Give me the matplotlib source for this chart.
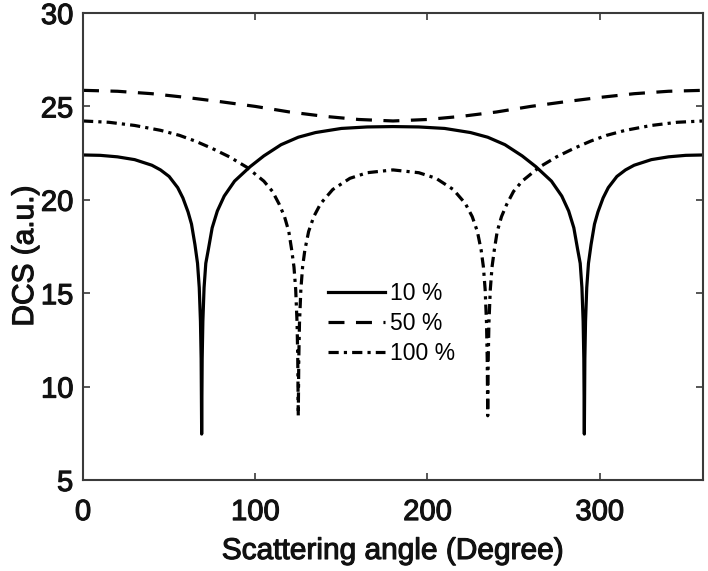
import matplotlib
matplotlib.use("Agg")
import matplotlib.pyplot as plt
import matplotlib.patheffects as pe

plt.rcParams['font.family'] = ['Liberation Sans', 'DejaVu Sans']

# ---- data ----
angle_10 = [0, 10, 20, 30, 40, 45, 50, 55, 58, 61, 63, 65, 66.5, 67.5, 68.2, 68.6, 68.9,
            69.2, 69.6, 70.3, 71.3, 72.8, 75, 78, 82, 88, 97, 105, 115, 125, 135, 150, 165, 180,
            195, 210, 225, 235, 245, 255, 263, 272, 278, 282, 285, 287.2, 288.7, 289.7, 290.4,
            290.8, 291.1, 291.4, 291.8, 292.5, 293.5, 295, 297, 299, 302, 305, 310, 315, 320, 330,
            340, 350, 360]
dcs_10 = [22.40, 22.38, 22.30, 22.15, 21.85, 21.60, 21.25, 20.65, 20.10, 19.35, 18.70, 17.60,
          16.60, 15.30, 13.50, 11.50, 7.46,
          11.50, 13.50, 15.30, 16.60, 17.35, 18.50, 19.40, 20.20, 21.00, 21.77, 22.35, 22.95,
          23.35, 23.60, 23.82, 23.90, 23.92,
          23.90, 23.82, 23.60, 23.35, 22.95, 22.35, 21.77, 21.00, 20.20, 19.40, 18.50, 17.35,
          16.60, 15.30, 13.50, 11.50, 7.46, 11.50, 13.50, 15.30, 16.60, 17.60, 18.70, 19.35,
          20.10, 20.65, 21.25, 21.60, 21.85, 22.15, 22.30, 22.38, 22.40]

angle_50 = [0, 20, 40, 60, 80, 100, 120, 140, 160, 180, 200, 220, 240, 260, 280, 300, 320, 340, 360]
dcs_50 = [25.86, 25.81, 25.68, 25.48, 25.25, 25.00, 24.70, 24.47, 24.30, 24.22,
          24.30, 24.47, 24.70, 25.00, 25.25, 25.48, 25.68, 25.81, 25.86]

angle_100 = [0, 15, 30, 45, 56, 65, 75, 85, 95, 105, 110, 114, 117, 119.5, 121.2, 122.5, 123.5,
             124.3, 124.7, 125.0, 125.3, 125.7, 126.5, 127.5, 128.8, 131, 134, 138, 145, 155,
             165, 180, 195, 205, 215, 222, 226, 229, 231.2, 232.5, 233.5, 234.3, 234.7, 235.0,
             235.3, 235.7, 236.5, 237.5, 238.8, 240.5, 243, 246, 250, 255, 265, 275, 285, 295,
             304, 315, 330, 345, 360]
dcs_100 = [24.22, 24.15, 23.98, 23.72, 23.45, 23.15, 22.75, 22.30, 21.75, 21.00, 20.45, 19.75,
           19.10, 18.30, 17.30, 16.40, 15.20, 13.40, 11.50, 8.44, 11.50, 13.40, 15.20, 16.40,
           17.30, 18.30, 19.10, 19.80, 20.55, 21.15, 21.45, 21.60, 21.45, 21.15, 20.55, 19.80,
           19.10, 18.30, 17.30, 16.40, 15.20, 13.40, 11.50, 8.44, 11.50, 13.40, 15.20, 16.40,
           17.30, 18.30, 19.10, 19.75, 20.45, 21.00, 21.75, 22.30, 22.75, 23.15, 23.45, 23.72,
           23.98, 24.15, 24.22]

labels = ['10 %', '50 %', '100 %']
x_ticks = [0, 100, 200, 300]
y_ticks = [5, 10, 15, 20, 25, 30]

# ---- figure ----
W, H = 708, 571
fig = plt.figure(figsize=(W / 100, H / 100), dpi=100)
ax = fig.add_axes([83 / W, (H - 480) / H, 620 / W, 467 / H])

lw = 2.3
ax.plot(angle_10, dcs_10, color='black', lw=lw, linestyle='-', label=labels[0])
ax.plot(angle_50, dcs_50, color='black', lw=lw, linestyle=(0, (5, 3.6)), label=labels[1])
ax.plot(angle_100, dcs_100, color='black', lw=lw, linestyle=(0, (3.2, 1.6, 1.0, 1.6)), label=labels[2])

ax.set_xlim(0, 360)
ax.set_ylim(5, 30)
ax.set_xticks(x_ticks)
ax.set_yticks(y_ticks)

for s in ax.spines.values():
    s.set_color('#3a3a3a')
    s.set_linewidth(1.5)

heavy = [pe.withStroke(linewidth=0.8, foreground='#111111')]

ax.tick_params(direction='in', length=5, width=1.2, colors='#3a3a3a',
               top=True, right=True, labelsize=21, labelcolor='#111111')
ax.tick_params(axis='x', pad=13)
ax.tick_params(axis='y', pad=7)
for t in ax.get_xticklabels() + ax.get_yticklabels():
    t.set_path_effects(heavy)

ax.set_xlabel('Scattering angle (Degree)', fontsize=21.5, color='#111111', va='center')
ax.xaxis.label.set_path_effects(heavy)
ax.xaxis.set_label_coords(0.5, -0.152)
ax.set_ylabel('DCS (a.u.)', fontsize=21.5, color='#111111', va='center')
ax.yaxis.label.set_path_effects(heavy)
ax.yaxis.set_label_coords(-0.0935, 0.48)

leg = ax.legend(loc='upper left', bbox_to_anchor=(0.395, 0.424), frameon=False,
                fontsize=16.5, handlelength=2.5, handletextpad=0.2, labelspacing=0.3,
                borderpad=0, borderaxespad=0)

fig.savefig('out.png', dpi=100)
